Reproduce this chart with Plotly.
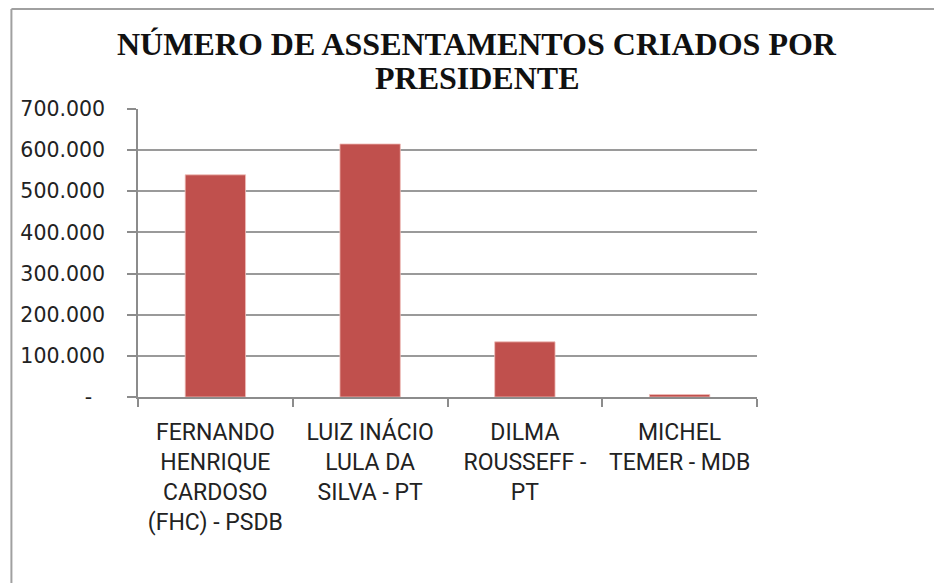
import plotly.graph_objects as go

categories = [
    "FERNANDO<br>HENRIQUE<br>CARDOSO<br>(FHC) - PSDB",
    "LUIZ INÁCIO<br>LULA DA<br>SILVA - PT",
    "DILMA<br>ROUSSEFF -<br>PT",
    "MICHEL<br>TEMER - MDB",
]
values = [540000, 615000, 134000, 6000]
tick_vals = [0, 100000, 200000, 300000, 400000, 500000, 600000, 700000]
tick_text = ["-\u00a0\u00a0", "100.000", "200.000", "300.000", "400.000",
             "500.000", "600.000", "700.000"]
title_lines = ["NÚMERO DE ASSENTAMENTOS CRIADOS POR", "PRESIDENTE"]

# page has an 8px body margin, so figure is placed at (8, 8)
OFF = 8
W, H = 942 - OFF, 583 - OFF
L, R, T, B = 136 - OFF, 185, 109 - OFF, 186
pw, ph = W - L - R, H - T - B


def px_x(p):
    return (p - OFF - L) / pw


def px_y(p):
    return (H - B - (p - OFF)) / ph


fig = go.Figure(go.Bar(
    x=categories, y=values,
    marker=dict(color="#C0504D", line=dict(color="rgba(240,190,185,0.8)", width=1)),
    width=0.39,
))

title_font = dict(family="Liberation Serif", size=32, color="#111", weight="bold")
annotations = [
    dict(text=title_lines[0], x=px_x(476), y=px_y(44), xref="paper", yref="paper",
         xanchor="center", yanchor="middle", showarrow=False, font=title_font),
    dict(text=title_lines[1], x=px_x(477), y=px_y(78), xref="paper", yref="paper",
         xanchor="center", yanchor="middle", showarrow=False, font=title_font),
]

fig.update_layout(
    width=W, height=H,
    margin=dict(l=L, r=R, t=T, b=B),
    paper_bgcolor="white", plot_bgcolor="white",
    showlegend=False,
    annotations=annotations,
    xaxis=dict(
        showline=True, linecolor="#8c8c8c", linewidth=1.5,
        ticks="outside", ticklen=8, tickcolor="#8c8c8c", tickwidth=1.5,
        tickson="boundaries",
        tickfont=dict(family="Roboto", size=23, color="#222"),
        ticklabelstandoff=14,
        showgrid=False,
        range=[-0.5, 3.5],
    ),
    yaxis=dict(
        range=[0, 700000],
        tickvals=tick_vals, ticktext=tick_text,
        showline=True, linecolor="#8c8c8c", linewidth=1.5,
        ticks="outside", ticklen=9, tickcolor="#8c8c8c", tickwidth=1.5,
        showgrid=True, gridcolor="#9a9a9a", gridwidth=1.5,
        zeroline=False,
        tickfont=dict(family="DejaVu Sans", size=20.5, color="#222"),
        ticklabelstandoff=18,
    ),
    shapes=[
        dict(type="line", xref="paper", yref="paper",
             x0=px_x(OFF + 1), x1=px_x(960), y0=px_y(OFF + 1), y1=px_y(OFF + 1),
             line=dict(color="#a0a0a0", width=2)),
        dict(type="line", xref="paper", yref="paper",
             x0=px_x(OFF + 1), x1=px_x(OFF + 1), y0=px_y(OFF + 1), y1=px_y(600),
             line=dict(color="#a0a0a0", width=2)),
    ],
)

fig.write_html("out.html")
